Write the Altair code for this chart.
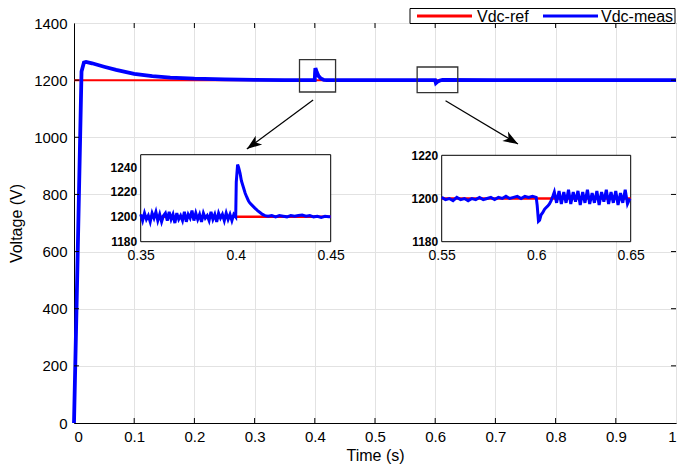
import altair as alt
import pandas as pd

FONT = "Liberation Sans"
RED = "#ff0000"
BLUE = "#0000ff"

# ---------------- data ----------------
ref_t = [0.0, 1.0]
ref_v = [1200, 1200]

meas_t = [0.0, 0.005, 0.0125, 0.0165, 0.02, 0.03, 0.04, 0.05, 0.07, 0.1, 0.13, 0.16, 0.2, 0.25,
          0.3, 0.35, 0.3999, 0.4005, 0.401, 0.403, 0.406, 0.41, 0.415, 0.42, 0.5, 0.5999, 0.6012,
          0.604, 0.608, 0.612, 0.7, 0.8, 0.9, 1.0]
meas_v = [0, 480, 1230, 1262, 1264, 1259, 1253, 1247, 1236, 1222, 1214, 1209, 1205, 1203,
          1201, 1200, 1200, 1228, 1242, 1229, 1215, 1206, 1201, 1200, 1200, 1200, 1190,
          1195, 1199, 1201, 1200, 1200, 1200, 1200]

# inset 1 (0.35 - 0.45)
in1_t = [0.350, 0.351, 0.352, 0.353, 0.354, 0.355, 0.356, 0.357, 0.358, 0.359,
         0.360, 0.361, 0.362, 0.363, 0.364, 0.365, 0.366, 0.367, 0.368, 0.369,
         0.370, 0.371, 0.372, 0.373, 0.374, 0.375, 0.376, 0.377, 0.378, 0.379,
         0.380, 0.381, 0.382, 0.383, 0.384, 0.385, 0.386, 0.387, 0.388, 0.389,
         0.390, 0.391, 0.392, 0.393, 0.394, 0.395, 0.396, 0.397, 0.398, 0.399,
         0.400, 0.4003, 0.401, 0.4015, 0.4023, 0.403, 0.404, 0.405, 0.4058, 0.4067,
         0.4075, 0.4088, 0.4101, 0.4115, 0.4128, 0.4141, 0.4154, 0.417, 0.419, 0.421,
         0.423, 0.425, 0.427, 0.429, 0.431, 0.433, 0.435, 0.437, 0.439, 0.441,
         0.443, 0.445, 0.447, 0.449, 0.450]
in1_v = [1202, 1197, 1203, 1198, 1201, 1196, 1203, 1199, 1204, 1197,
         1202, 1196, 1201, 1203, 1197, 1204, 1198, 1202, 1195, 1203,
         1198, 1201, 1197, 1204, 1196, 1202, 1199, 1205, 1197, 1203,
         1198, 1202, 1196, 1203, 1199, 1201, 1197, 1204, 1198, 1202,
         1196, 1203, 1199, 1202, 1197, 1203, 1198, 1202, 1197, 1202,
         1200, 1228, 1242, 1240, 1235, 1229, 1224, 1219, 1216, 1213,
         1211, 1209, 1207, 1205, 1203.5, 1202, 1201, 1200.5, 1201, 1200,
         1201, 1200.5, 1200, 1201, 1200.5, 1201, 1201.5, 1200.5, 1201, 1200,
         1200.5, 1199.5, 1200.5, 1200, 1200]

# inset 2 (0.55 - 0.65)
in2_t = [0.550, 0.552, 0.554, 0.556, 0.558, 0.560, 0.562, 0.564, 0.566, 0.568,
         0.570, 0.572, 0.574, 0.576, 0.578, 0.580, 0.582, 0.584, 0.586, 0.588,
         0.590, 0.592, 0.594, 0.596, 0.598, 0.600,
         0.6005, 0.6012, 0.6018, 0.6026, 0.6035, 0.6044, 0.6053, 0.6061, 0.6070, 0.6079,
         0.6088, 0.6096,
         0.6108, 0.6121, 0.6133, 0.6146, 0.6158, 0.6171, 0.6183, 0.6196, 0.6208, 0.6221,
         0.6233, 0.6246, 0.6258, 0.6271, 0.6283, 0.6296, 0.6308, 0.6321, 0.6333, 0.6346,
         0.6358, 0.6371, 0.6383, 0.6396, 0.6408, 0.6421, 0.6433, 0.6446, 0.6458, 0.6471,
         0.6483, 0.6496]
in2_v = [1200.5, 1199.5, 1200, 1199, 1200.5, 1199.5, 1200, 1199, 1200, 1199.5,
         1200.5, 1199.5, 1200, 1200.5, 1199.5, 1200.5, 1200, 1201, 1200, 1200.5,
         1201, 1200, 1201, 1200.5, 1201, 1200.5,
         1197, 1189.5, 1190, 1192.5, 1193.5, 1195, 1195.8, 1196.5, 1197.5, 1199,
         1201, 1203,
         1198, 1203.5, 1197.5, 1203, 1198, 1204, 1197.5, 1203, 1198.5, 1203.5,
         1197, 1203, 1198, 1204, 1197.5, 1202.5, 1198, 1203.5, 1197, 1203,
         1198.5, 1204, 1197.5, 1203, 1198, 1203.5, 1197, 1202.5, 1198, 1204,
         1197.5, 1200]

x_ticks = [0, 0.1, 0.2, 0.3, 0.4, 0.5, 0.6, 0.7, 0.8, 0.9, 1]
y_ticks = [0, 200, 400, 600, 800, 1000, 1200, 1400]
in1_xticks = [0.35, 0.4, 0.45]
in1_yticks = [1180, 1200, 1220, 1240]
in2_xticks = [0.55, 0.6, 0.65]
in2_yticks = [1180, 1200, 1220]
in1_dom_t = [0.35, 0.45]
in1_dom_v = [1180, 1250]
in2_dom_t = [0.55, 0.65]
in2_dom_v = [1180, 1220]

# zoom boxes on main plot
box_t0 = [0.3746, 0.570]
box_t1 = [0.4345, 0.6375]
box_v0 = [1158.5, 1156]
box_v1 = [1271.5, 1246]

# arrows (start -> tip)
arr_t0 = [0.3972, 0.6172]
arr_v0 = [1130.5, 1128]
arr_t1 = [0.2871, 0.7376]
arr_v1 = [959, 976.5]

legend_names = ["Vdc-ref", "Vdc-meas"]

# ---------------- frames ----------------
df_ref = pd.DataFrame({"t": ref_t, "v": ref_v})
df_meas = pd.DataFrame({"t": meas_t, "v": meas_v})
df_in1 = pd.DataFrame({"t": in1_t, "v": in1_v})
df_in2 = pd.DataFrame({"t": in2_t, "v": in2_v})
df_ref1 = pd.DataFrame({"t": in1_dom_t, "v": [1200, 1200]})
df_ref2 = pd.DataFrame({"t": in2_dom_t, "v": [1200, 1200]})
df_box = pd.DataFrame({"t0": box_t0, "t1": box_t1, "v0": box_v0, "v1": box_v1})
df_arr = pd.DataFrame({"t0": arr_t0, "t1": arr_t1, "v0": arr_v0, "v1": arr_v1, "id": [0, 1]})
df_xt = pd.DataFrame({"t": x_ticks[1:-1]})
df_yt = pd.DataFrame({"v": y_ticks[1:-1]})
df_b1 = pd.DataFrame({"t0": [in1_dom_t[0]], "t1": [in1_dom_t[1]], "v0": [in1_dom_v[0]], "v1": [in1_dom_v[1]]})
df_b2 = pd.DataFrame({"t0": [in2_dom_t[0]], "t1": [in2_dom_t[1]], "v0": [in2_dom_v[0]], "v1": [in2_dom_v[1]]})
df_leg = pd.DataFrame({"name": legend_names})

W, H = 602, 400
PAD = {"left": 66, "top": 15, "right": 1, "bottom": 41}

# ---------------- main layer ----------------
main_xaxis = alt.Axis(values=x_ticks, format="~g", title="Time (s)", grid=True, gridColor="#e2e2e2",
                      domain=True, domainColor="black", ticks=False, labelFontSize=15, labelPadding=6,
                      labelFlush=True, titleFontSize=16, titleFontWeight="normal", titlePadding=3,
                      orient="bottom")
main_yaxis = alt.Axis(values=y_ticks, format="d", title="Voltage (V)", grid=True, gridColor="#e2e2e2",
                      domain=True, domainColor="black", ticks=False, labelFontSize=15, labelPadding=7,
                      labelFlush=False, titleFontSize=16, titleFontWeight="normal", titlePadding=9,
                      orient="left")
xs = alt.Scale(domain=[0, 1], nice=False, zero=False)
ys = alt.Scale(domain=[0, 1400], nice=False, zero=False)

def MX(f):
    return alt.X(f"{f}:Q", scale=xs, axis=main_xaxis)

def MY(f):
    return alt.Y(f"{f}:Q", scale=ys, axis=main_yaxis)

ref_line = alt.Chart(df_ref).mark_line(color=RED, strokeWidth=2).encode(x=MX("t"), y=MY("v"))
meas_line = alt.Chart(df_meas).mark_line(color=BLUE, strokeWidth=3.8).encode(x=MX("t"), y=MY("v"))
boxes = alt.Chart(df_box).mark_rect(fillOpacity=0, stroke="#333333", strokeWidth=1.3).encode(
    x=MX("t0"), x2="t1", y=MY("v0"), y2="v1")
arrows = alt.Chart(df_arr).mark_rule(color="black", strokeWidth=1.2).encode(
    x=MX("t0"), x2="t1", y=MY("v0"), y2="v1")
DART = "M0,0 L1.1,3 L0,2.2 L-1.1,3 Z"
head_l = alt.Chart(df_arr).transform_filter(alt.datum.id == 0).mark_point(
    shape=DART, size=100, filled=True, color="black", opacity=1, angle=233.8).encode(x=MX("t1"), y=MY("v1"))
head_r = alt.Chart(df_arr).transform_filter(alt.datum.id == 1).mark_point(
    shape=DART, size=100, filled=True, color="black", opacity=1, angle=120.7).encode(x=MX("t1"), y=MY("v1"))

tick_b = alt.Chart(df_xt).mark_rule(color="black", strokeWidth=1).encode(
    x=MX("t"), y=alt.datum(0), y2=alt.datum(17.5))
tick_t = alt.Chart(df_xt).mark_rule(color="black", strokeWidth=1).encode(
    x=MX("t"), y=alt.datum(1400), y2=alt.datum(1382.5))
tick_l = alt.Chart(df_yt).mark_rule(color="black", strokeWidth=1).encode(
    y=MY("v"), x=alt.datum(0), x2=alt.datum(0.0083))
tick_r = alt.Chart(df_yt).mark_rule(color="black", strokeWidth=1).encode(
    y=MY("v"), x=alt.datum(1), x2=alt.datum(0.9917))

# legend (drawn by hand above the plot)
leg_box = alt.Chart(df_leg).transform_filter(alt.datum.name == legend_names[0]).mark_rect(
    fill="white", stroke="black", strokeWidth=1).encode(
    x=alt.value(336), x2=alt.value(601), y=alt.value(-14.5), y2=alt.value(0.5))
leg_red = alt.Chart(df_leg).transform_filter(alt.datum.name == legend_names[0]).mark_rule(
    color=RED, strokeWidth=3).encode(x=alt.value(343), x2=alt.value(398), y=alt.value(-7))
leg_blue = alt.Chart(df_leg).transform_filter(alt.datum.name == legend_names[1]).mark_rule(
    color=BLUE, strokeWidth=3).encode(x=alt.value(469), x2=alt.value(524), y=alt.value(-7))
leg_t1 = alt.Chart(df_leg).transform_filter(alt.datum.name == legend_names[0]).mark_text(
    align="left", baseline="middle", fontSize=16, font=FONT, color="black").encode(
    x=alt.value(403), y=alt.value(-6.5), text="name:N")
leg_t2 = alt.Chart(df_leg).transform_filter(alt.datum.name == legend_names[1]).mark_text(
    align="left", baseline="middle", fontSize=16, font=FONT, color="black").encode(
    x=alt.value(527), y=alt.value(-6.5), text="name:N")

main = alt.layer(ref_line, meas_line, boxes, arrows, head_l, head_r, tick_b, tick_t, tick_l, tick_r,
                 leg_box, leg_red, leg_blue, leg_t1, leg_t2)

# ---------------- insets ----------------
def inset(df_line, df_r, df_b, dom_t, dom_v, xticks, yticks, xrange, yrange):
    xa = alt.Axis(orient="bottom", offset=-(H - yrange[0]), values=xticks, format="~g", grid=False,
                  domain=False, ticks=False, labelFontSize=14, labelPadding=7, labelFlush=False, title=None)
    ya = alt.Axis(orient="left", offset=-xrange[0], values=yticks, format="d", grid=False, domain=False,
                  ticks=False, labelFontSize=12, labelFontWeight="bold", labelPadding=4, labelFlush=False,
                  title=None)
    sx = alt.Scale(domain=dom_t, range=xrange, nice=False, zero=False)
    sy = alt.Scale(domain=dom_v, range=yrange, nice=False, zero=False)

    def IX(f):
        return alt.X(f"{f}:Q", scale=sx, axis=xa)

    def IY(f):
        return alt.Y(f"{f}:Q", scale=sy, axis=ya)

    bg = alt.Chart(df_b).mark_rect(fill="white", stroke="black", strokeWidth=1).encode(
        x=IX("t0"), x2="t1", y=IY("v0"), y2="v1")
    r = alt.Chart(df_r).mark_line(color=RED, strokeWidth=2.5).encode(x=IX("t"), y=IY("v"))
    b = alt.Chart(df_line).mark_line(color=BLUE, strokeWidth=3).encode(x=IX("t"), y=IY("v"))
    return alt.layer(bg, r, b)

ins1 = inset(df_in1, df_ref1, df_b1, in1_dom_t, in1_dom_v, in1_xticks, in1_yticks,
             [66.7, 256.7], [218.7, 131.7])
ins2 = inset(df_in2, df_ref2, df_b2, in2_dom_t, in2_dom_v, in2_xticks, in2_yticks,
             [367.7, 556.7], [218.7, 132.3])

chart = alt.layer(main, ins1, ins2).resolve_scale(x="independent", y="independent").properties(
    width=W, height=H,
    autosize=alt.AutoSizeParams(type="none"),
    padding=PAD,
).configure_view(stroke="black", strokeWidth=1).configure_axis(
    labelFont=FONT, titleFont=FONT, labelColor="black", titleColor="black"
).configure_text(font=FONT)

chart.save("out.html", embed_options={"renderer": "svg", "actions": False})
